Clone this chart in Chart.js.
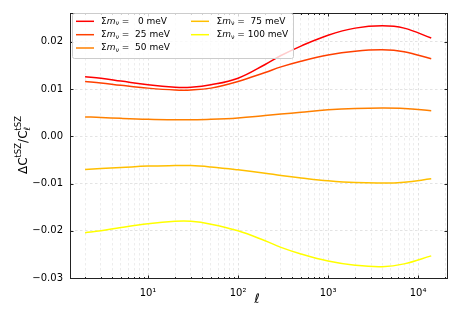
<!DOCTYPE html>
<html>
<head>
<meta charset="utf-8">
<script src="https://cdn.jsdelivr.net/npm/chart.js@4.4.0/dist/chart.umd.min.js"></script>
<style>
  html,body{margin:0;padding:0;background:#fff;}
  #wrap{width:458px;height:327px;}
</style>
</head>
<body>
<div id="wrap"><canvas id="chart"></canvas></div>
<script>
// data
const ell = [2, 3, 5, 10, 20, 30, 50, 100, 200, 300, 500, 1000, 2000, 4000, 7000, 14000];
const masses = [0, 25, 50, 75, 100];
const d0   = [0.0126, 0.0123, 0.0117, 0.0109, 0.0104, 0.0104, 0.0109, 0.0123, 0.0152, 0.0171, 0.0191, 0.0214, 0.0229, 0.0234, 0.0229, 0.0208];
const d25  = [0.0116, 0.0113, 0.0108, 0.0102, 0.0098, 0.0098, 0.0102, 0.0116, 0.0135, 0.0147, 0.0159, 0.0172, 0.0180, 0.0183, 0.0179, 0.0164];
const d50  = [0.0041, 0.0040, 0.0038, 0.0036, 0.0035, 0.0035, 0.0036, 0.0039, 0.0044, 0.0047, 0.0051, 0.0056, 0.0059, 0.0060, 0.0059, 0.0054];
const d75  = [-0.0070, -0.0068, -0.0066, -0.0063, -0.0062, -0.0062, -0.0065, -0.0071, -0.0078, -0.0083, -0.0088, -0.0094, -0.0098, -0.0099, -0.0097, -0.0090];
const d100 = [-0.0204, -0.0200, -0.0193, -0.0185, -0.0180, -0.0180, -0.0186, -0.0200, -0.0221, -0.0235, -0.0249, -0.0264, -0.0273, -0.0276, -0.0270, -0.0253];
const colors = ['#ff0000', '#ff4000', '#ff8000', '#ffbf00', '#ffff00'];
const yTicks = [-0.03, -0.02, -0.01, 0, 0.01, 0.02];
const xMajor = [10, 100, 1000, 10000];

const series = [d0, d25, d50, d75, d100];
const FONT = '"DejaVu Sans", sans-serif';

// all log ticks 2..20000
let xTicks = [];
for (let p = 1; p <= 10000; p *= 10) {
  for (let k = 1; k <= 9; k++) {
    const v = k * p;
    if (v >= 2 && v <= 20000) xTicks.push(v);
  }
}
xTicks.push(20000);

const datasets = series.map((s, i) => ({
  label: 'Σmν = ' + masses[i] + ' meV',
  data: ell.map((l, j) => ({x: l, y: s[j]})),
  borderColor: colors[i],
  backgroundColor: colors[i],
  borderWidth: 1.5,
  pointRadius: 0,
  tension: 0.4,
  fill: false
}));

function line(ctx, x1, y1, x2, y2){
  ctx.beginPath(); ctx.moveTo(x1, y1); ctx.lineTo(x2, y2); ctx.stroke();
}

const frame = {
  id: 'frame',
  afterDraw(chart){
    const {ctx, chartArea: a, scales: {x, y}} = chart;
    ctx.save();
    ctx.strokeStyle = '#222';
    ctx.lineWidth = 1;
    x.ticks.forEach(t => {
      const px = Math.round(x.getPixelForValue(t.value)) + 0.5;
      if (px < a.left || px > a.right) return;
      const len = xMajor.includes(t.value) ? 3.5 : 2;
      line(ctx, px, a.bottom, px, a.bottom - len);
      line(ctx, px, a.top, px, a.top + len);
    });
    y.ticks.forEach(t => {
      const py = Math.round(y.getPixelForValue(t.value)) + 0.5;
      line(ctx, a.left, py, a.left + 3.5, py);
      line(ctx, a.right, py, a.right - 3.5, py);
    });
    ctx.strokeRect(a.left + 0.5, a.top + 0.5, a.right - a.left - 1, a.bottom - a.top - 1);

    // legend, two columns filled top to bottom
    ctx.fillStyle = 'rgba(255,255,255,0.8)';
    ctx.strokeStyle = '#cccccc';
    ctx.beginPath();
    ctx.roundRect(72.5, 13.5, 221, 45, 2);
    ctx.fill(); ctx.stroke();
    const cols = [{lx: 76, tx: 101}, {lx: 191, tx: 216.5}];
    const rows = [21.3, 34.7, 48];
    chart.data.datasets.forEach((ds, i) => {
      const c = cols[i < 3 ? 0 : 1];
      const ry = rows[i < 3 ? i : i - 3];
      ctx.strokeStyle = ds.borderColor;
      ctx.lineWidth = 1.5;
      line(ctx, c.lx, ry, c.lx + 18, ry);
      ctx.fillStyle = '#000';
      ctx.textBaseline = 'middle';
      ctx.textAlign = 'left';
      let tx = c.tx;
      ctx.font = '9px ' + FONT;
      ctx.fillText('Σ', tx, ry); tx += ctx.measureText('Σ').width;
      ctx.font = 'italic 9px ' + FONT;
      ctx.fillText('m', tx, ry); tx += ctx.measureText('m').width;
      ctx.font = '6.3px ' + FONT;
      ctx.fillText('ν', tx, ry + 2.5); tx += ctx.measureText('ν').width;
      ctx.font = '9px ' + FONT;
      const sp = ctx.measureText(' ').width;
      tx += sp;
      ctx.fillText('=', tx, ry); tx += ctx.measureText('=').width + sp;
      const num = String(masses[i]);
      tx += (3 - num.length) * sp;
      ctx.fillText(num + ' meV', tx, ry);
    });

    // axis titles
    ctx.fillStyle = '#000';
    ctx.textBaseline = 'alphabetic';
    ctx.textAlign = 'left';
    ctx.font = 'italic 13px ' + FONT;
    const lw = ctx.measureText('ℓ').width;
    ctx.fillText('ℓ', 257 - lw / 2, 303);

    ctx.save();
    ctx.translate(22.5, 145);
    ctx.rotate(-Math.PI / 2);
    const big = '12px ' + FONT, small = '8.5px ' + FONT;
    const parts = [
      {t: 'ΔC', f: big, dy: 0},
      {t: 'tSZ', f: small, dy: -5.5},
      {t: '/C', f: big, dy: 0},
      {t: 'tSZ', f: small, dy: -5.5, stack: 'ℓ'}
    ];
    let w = 0;
    parts.forEach(p => { ctx.font = p.f; p.w = ctx.measureText(p.t).width; w += p.w; });
    let px = -w / 2;
    parts.forEach(p => {
      ctx.font = p.f;
      ctx.fillText(p.t, px, 4 + p.dy);
      if (p.stack) {
        ctx.font = 'italic ' + small;
        ctx.fillText(p.stack, px, 7.5);
      }
      px += p.w;
    });
    ctx.restore();
    ctx.restore();
  }
};

new Chart(document.getElementById('chart'), {
  type: 'line',
  data: {datasets},
  options: {
    responsive: true,
    maintainAspectRatio: false,
    animation: false,
    devicePixelRatio: 1,
    layout: {padding: {top: 10, right: 10, left: 0, bottom: 0}},
    plugins: {legend: {display: false}, tooltip: {enabled: false}},
    scales: {
      x: {
        type: 'logarithmic',
        min: 1.36,
        max: 21500,
        afterBuildTicks: s => { s.ticks = xTicks.map(v => ({value: v})); },
        afterFit: s => { s.height = 48; },
        grid: {
          color: ctx => xMajor.includes(ctx.tick && ctx.tick.value) ? '#dcdcdc' : '#e8e8e8',
          lineWidth: 0.8,
          drawTicks: false
        },
        border: {display: false, dash: [2.5, 2.5]},
        ticks: {
          autoSkip: false,
          maxRotation: 0,
          padding: 8,
          color: '#000',
          font: {family: 'DejaVu Sans', size: 10},
          callback: v => ({10: '10¹', 100: '10²', 1000: '10³', 10000: '10⁴'})[v] || ''
        }
      },
      y: {
        type: 'linear',
        min: -0.0302,
        max: 0.0261,
        afterBuildTicks: s => { s.ticks = yTicks.map(v => ({value: v})); },
        afterFit: s => { s.width = 70; },
        grid: {color: '#dcdcdc', lineWidth: 0.8, drawTicks: false},
        border: {display: false, dash: [2.5, 2.5]},
        ticks: {
          padding: 7,
          color: '#000',
          font: {family: 'DejaVu Sans', size: 10},
          callback: v => (v < -1e-9 ? '−' : '') + Math.abs(v).toFixed(2)
        }
      }
    }
  },
  plugins: [frame]
});
</script>
</body>
</html>
